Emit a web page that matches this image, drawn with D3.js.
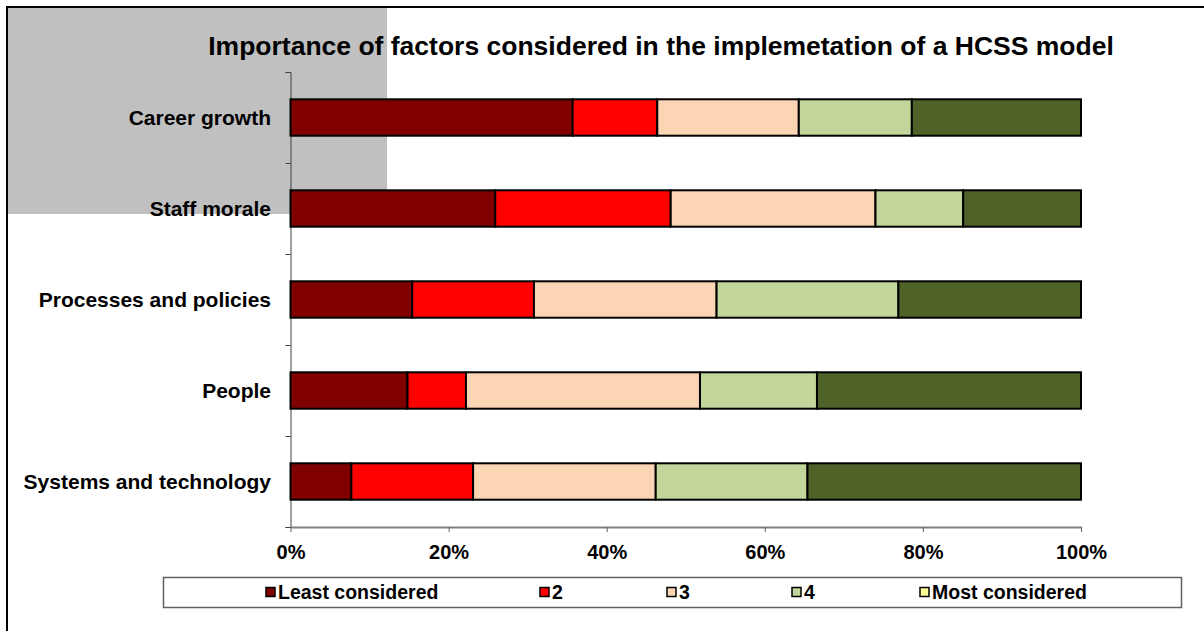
<!DOCTYPE html>
<html><head><meta charset="utf-8">
<script src="https://cdn.jsdelivr.net/npm/d3@7"></script>
<style>body{margin:0;background:#fff;} svg{display:block;font-family:Arial,"Liberation Sans",sans-serif;font-weight:bold;}</style>
</head><body>
<script>
const titleText = "Importance of factors considered in the implemetation of a HCSS model";
const categories = ["Career growth","Staff morale","Processes and policies","People","Systems and technology"];
const seriesNames = ["Least considered","2","3","4","Most considered"];
const leastConsidered = [35.7, 25.9, 15.4, 14.8, 7.7];
const level2 = [10.7, 22.2, 15.4, 7.4, 15.4];
const level3 = [17.9, 25.9, 23.1, 29.6, 23.1];
const level4 = [14.3, 11.1, 23.0, 14.8, 19.2];
const mostConsidered = [21.4, 14.9, 23.1, 33.4, 34.6];
const barColors = ["#800000","#FF0000","#FCD5B5","#C3D69B","#4F6228"];
const legendColors = ["#800000","#FF0000","#FCD5B5","#C3D69B","#FFFF99"];
const xTicks = [0,20,40,60,80,100];

const W=1204,H=631;
const svg=d3.select("body").append("svg").attr("width",W).attr("height",H);

// background decoration
svg.append("rect").attr("x",7).attr("y",7).attr("width",380).attr("height",207).attr("fill","#C0C0C0");
svg.append("rect").attr("x",7).attr("y",7).attr("width",1400).attr("height",800).attr("fill","none").attr("stroke","#000").attr("stroke-width",2);

const x=d3.scaleLinear().domain([0,100]).range([290.5,1081]);
const y=d3.scaleBand().domain(categories).range([72,527]).paddingInner(0.6).paddingOuter(0.3);
const yEdge=d3.scaleLinear().domain([0,categories.length]).range([72,527]);

const seriesData=[leastConsidered,level2,level3,level4,mostConsidered];
const rows=categories.map((c,i)=>{const o={cat:c};seriesNames.forEach((s,j)=>o[s]=seriesData[j][i]);return o;});
const stack=d3.stack().keys(seriesNames)(rows);

svg.append("text").attr("x",661).attr("y",55).attr("text-anchor","middle").attr("font-size",26.5).text(titleText);

// y axis edges
const yAx=svg.append("g").attr("transform","translate(290.5,0)").call(d3.axisLeft(yEdge).ticks(5).tickFormat("").tickSize(5).tickSizeOuter(5));
yAx.select(".domain").attr("stroke","#404040");
yAx.selectAll(".tick line").attr("stroke","#404040");

// category labels
svg.append("g").selectAll("text").data(categories).join("text")
 .attr("x",271).attr("y",d=>y(d)+y.bandwidth()/2).attr("dy","0.35em").attr("text-anchor","end").attr("font-size",21).text(d=>d);

// x axis
const xAx=svg.append("g").attr("transform","translate(0,527)").call(d3.axisBottom(x).tickValues(xTicks).tickFormat(d=>d+"%").tickSize(5).tickSizeOuter(0).tickPadding(13));
xAx.select(".domain").attr("stroke","#808080").attr("stroke-width",2);
xAx.selectAll(".tick line").attr("stroke","#606060");
xAx.selectAll("text").attr("font-size",20).attr("font-family","Arial,'Liberation Sans',sans-serif").attr("font-weight","bold").attr("fill","#000");

// bars
svg.append("g").selectAll("g").data(stack).join("g").attr("fill",(d,i)=>barColors[i])
 .selectAll("rect").data(d=>d).join("rect")
 .attr("x",d=>x(d[0])).attr("width",d=>x(d[1])-x(d[0]))
 .attr("y",d=>y(d.data.cat)).attr("height",y.bandwidth())
 .attr("stroke","#000").attr("stroke-width",2);

// legend
svg.append("rect").attr("x",163.5).attr("y",577.5).attr("width",1018).attr("height",30).attr("fill","#fff").attr("stroke","#606060").attr("stroke-width",1.5);
const legX=[266,540,667,792,920];
const lg=svg.append("g").selectAll("g").data(seriesNames).join("g").attr("transform",(d,i)=>`translate(${legX[i]},592)`);
lg.append("rect").attr("x",0).attr("y",-4.5).attr("width",9).attr("height",9).attr("fill",(d,i)=>legendColors[i]).attr("stroke","#000").attr("stroke-width",1.5);
lg.append("text").attr("x",12).attr("y",0).attr("dy","0.36em").attr("font-size",19.5).text(d=>d);
</script>
</body></html>
